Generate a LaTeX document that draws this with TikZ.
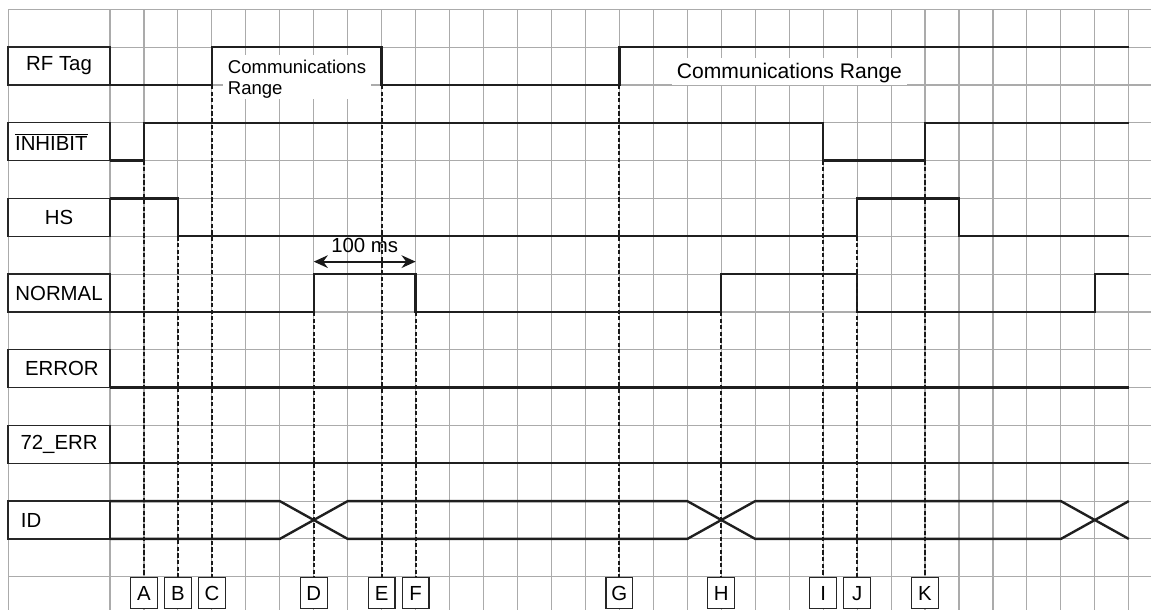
\documentclass[tikz,border=0pt]{standalone}
\usepackage{fontspec}
\setmainfont{Liberation Sans}
\usetikzlibrary{arrows.meta}

\begin{document}
\begin{tikzpicture}[
    x = 0.849cm, y = 0.94575cm,
    font = \fontsize{14.5}{17}\selectfont,
    gridline/.style = { draw = black!33, line width = 0.8pt },
    wave/.style     = { draw = black!88, line width = 1.7pt, line join = miter },
    sigbox/.style   = {
        rectangle, draw = black!85, line width = 1pt, fill = white,
        minimum width  = 2.547cm,
        minimum height = 0.94575cm,
        inner sep = 0pt
    },
    evbox/.style    = {
        rectangle, draw = black!85, line width = 0.8pt, fill = white,
        minimum width = 0.6675cm, minimum height = 0.79cm,
        inner sep = 0pt, anchor = north
    },
    rangebox/.style = {
        fill = white, align = left, anchor = north west,
        inner xsep = 0.125cm, inner ysep = 0.11cm, text depth = 0pt
    },
    guide/.style    = { draw = black!90, line width = 1.5pt, dash pattern = on 3pt off 1.7pt },
    msarrow/.style  = { <->, >={Stealth[length=10pt, width=9pt]}, draw = black!90, line width = 1.4pt },
]

\useasboundingbox (-3.239,0.2458) rectangle (30.654,-15.879);

%% ── Grid ─────────────────────────────────────────────────────────────────
\foreach \c in {-3,0,1,...,30}
    \draw[gridline] (\c,0) -- (\c,-15.879);
\foreach \r in {0,...,15}
    \draw[gridline] (-3,-\r) -- (30.654,-\r);

%% ── Signal names ─────────────────────────────────────────────────────────
\node[sigbox] (rftag)   at (-1.5,-1.5)  {RF Tag};
\node[sigbox, text width = 2.197cm, align = left, inner xsep = 0.175cm]
    (inhibit) at (-1.5,-3.5) {$\overline{\hbox{INHIBIT}}$};
\node[sigbox] (hs)      at (-1.5,-5.5)  {HS};
\node[sigbox] (normal)  at (-1.5,-7.5)  {NORMAL};
\node[sigbox] (error)   at (-1.5,-9.5)  {\hspace{4pt}ERROR};
\node[sigbox] (err72)   at (-1.5,-11.5) {72\_ERR};
\node[sigbox, text width = 1.91cm, align = left, inner xsep = 0.3175cm]
    (idsig) at (-1.5,-13.5) {ID};

%% ── Waveforms ────────────────────────────────────────────────────────────
\draw[wave] (0,-2) -- (3,-2) -- (3,-1) -- (8,-1) -- (8,-2)
    -- (15,-2) -- (15,-1) -- (30,-1);
\draw[wave] (0,-4) -- (1,-4) -- (1,-3) -- (21,-3) -- (21,-4)
    -- (24,-4) -- (24,-3) -- (30,-3);
\draw[wave] (0,-5) -- (2,-5) -- (2,-6) -- (22,-6) -- (22,-5)
    -- (25,-5) -- (25,-6) -- (30,-6);
\draw[wave] (0,-8) -- (6,-8) -- (6,-7) -- (9,-7) -- (9,-8)
    -- (18,-8) -- (18,-7) -- (22,-7) -- (22,-8)
    -- (29,-8) -- (29,-7) -- (30,-7);
\draw[wave] (0,-10) -- (30,-10);
\draw[wave] (0,-12) -- (30,-12);
\draw[wave] (0,-13) -- (5,-13) -- (7,-14) -- (17,-14) -- (19,-13)
    -- (28,-13) -- (30,-14);
\draw[wave] (0,-14) -- (5,-14) -- (7,-13) -- (17,-13) -- (19,-14)
    -- (28,-14) -- (30,-13);

%% ── Range labels ─────────────────────────────────────────────────────────
\node[rangebox, font = \fontsize{13.2}{15.4}\selectfont]
    (rangeA) at (3.316,-1.205) {Communications\\Range};
\node[rangebox, font = \fontsize{15}{17}\selectfont, inner ysep = 0.15cm]
    (rangeB) at (16.54,-1.269) {Communications Range};

%% ── 100 ms window ────────────────────────────────────────────────────────
\coordinate (msL) at (6,-6.67);
\coordinate (msR) at (9,-6.67);
\draw[msarrow] (msL) -- (msR)
    node[midway, above = 6pt, inner sep = 0pt] (mslabel) {100 ms};

%% ── Event markers ────────────────────────────────────────────────────────
\foreach \ev/\c/\r in {A/1/4, B/2/6, C/3/2, D/6/8, E/8/2, F/9/8,
                       G/15/2, H/18/8, I/21/4, J/22/6, K/24/4} {
    \coordinate (t\ev) at (\c,-\r);
    \node[evbox] (ev\ev) at (\c,-15) {\ev};
    \draw[guide] (t\ev) -- (ev\ev.north);
}

\end{tikzpicture}
\end{document}
